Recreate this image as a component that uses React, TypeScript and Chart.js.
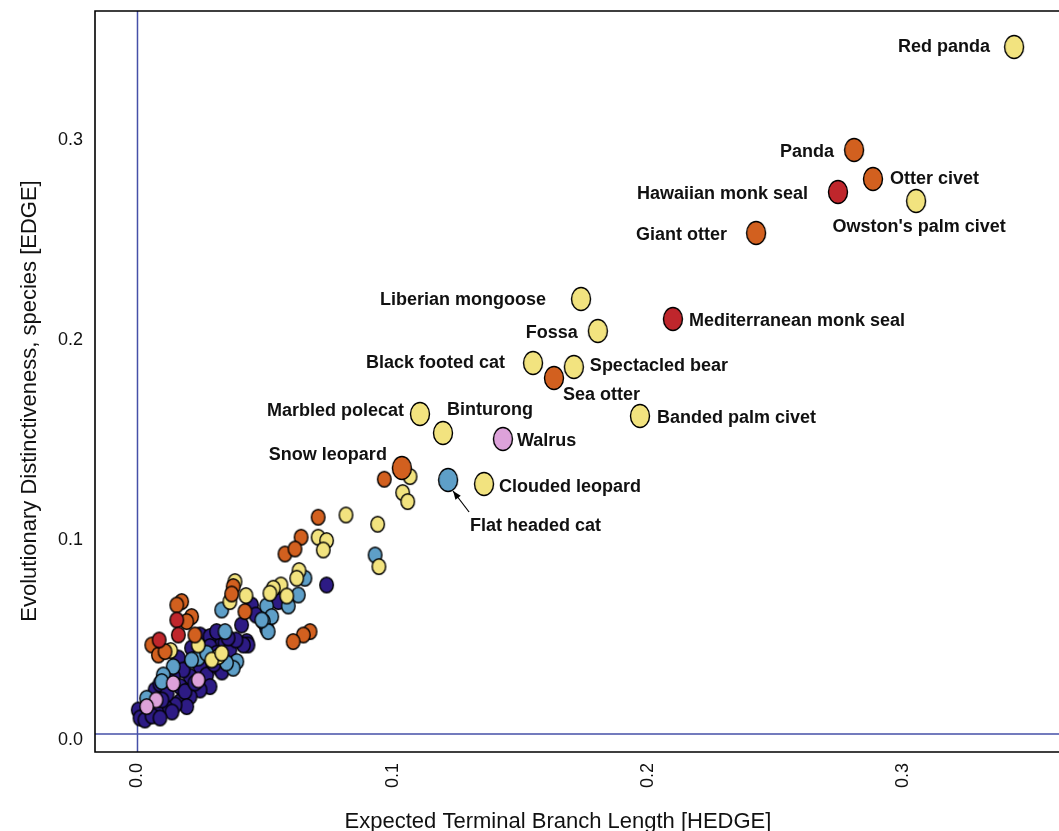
import React, { useEffect, useRef } from 'react';
import { Chart, registerables } from 'chart.js';

Chart.register(...registerables);

// ---------- DATA ----------
const xTickValues = [0, 0.1, 0.2, 0.3];
const yTickValues = [0, 0.1, 0.2, 0.3];

const xTitle = 'Expected Terminal Branch Length [HEDGE]';
const yTitle = 'Evolutionary Distinctiveness, species [EDGE]';

// labelled species
const labelNames = [
  'Red panda', 'Panda', 'Otter civet', 'Hawaiian monk seal', "Owston's palm civet",
  'Giant otter', 'Liberian mongoose', 'Mediterranean monk seal', 'Fossa', 'Black footed cat',
  'Spectacled bear', 'Sea otter', 'Marbled polecat', 'Banded palm civet', 'Binturong',
  'Walrus', 'Snow leopard', 'Flat headed cat', 'Clouded leopard',
];
const labelHedge = [
  0.3435, 0.2808, 0.2882, 0.2745, 0.3051,
  0.2424, 0.1738, 0.2098, 0.1804, 0.155,
  0.171, 0.1632, 0.1107, 0.1969, 0.1197,
  0.1432, 0.1036, 0.1217, 0.1358,
];
const labelEdge = [
  0.3435, 0.292, 0.2775, 0.271, 0.2665,
  0.2505, 0.2175, 0.2075, 0.2015, 0.1855,
  0.1835, 0.178, 0.16, 0.159, 0.1505,
  0.1475, 0.133, 0.127, 0.125,
];
const labelGroup = [
  'yellow', 'orange', 'orange', 'red', 'yellow',
  'orange', 'yellow', 'red', 'yellow', 'yellow',
  'yellow', 'orange', 'yellow', 'yellow', 'yellow',
  'pink', 'orange', 'blue', 'yellow',
];

// unlabelled species, [HEDGE, EDGE]
const redPoints = [
  [0.0154, 0.057], [0.016, 0.0495], [0.0085, 0.047],
];
const orangePoints = [
  [0.0967, 0.1274], [0.0708, 0.1084], [0.0641, 0.0984], [0.0578, 0.09], [0.0617, 0.0925],
  [0.0676, 0.0512], [0.065, 0.0495], [0.061, 0.0462], [0.0375, 0.0737], [0.0369, 0.07],
  [0.0421, 0.0612], [0.0173, 0.0662], [0.0154, 0.0645], [0.0212, 0.0587], [0.0193, 0.0562],
  [0.0225, 0.0495], [0.0056, 0.0445], [0.0082, 0.0395], [0.0108, 0.0412],
];
const yellowPoints = [
  [0.1068, 0.1287], [0.1039, 0.1207], [0.1059, 0.1162], [0.0817, 0.1095], [0.0941, 0.1049],
  [0.0708, 0.0984], [0.0741, 0.0967], [0.0728, 0.092], [0.0946, 0.0837], [0.0633, 0.0817],
  [0.0624, 0.0779], [0.0562, 0.0745], [0.0532, 0.0729], [0.0519, 0.0704], [0.0585, 0.069],
  [0.0382, 0.0762], [0.0362, 0.0662], [0.0425, 0.0692], [0.0317, 0.0387], [0.0291, 0.037],
  [0.033, 0.0404], [0.0238, 0.0445], [0.013, 0.0417],
];
const pinkPoints = [
  [0.014, 0.0253], [0.0238, 0.027], [0.0073, 0.017], [0.0036, 0.0137],
];
const bluePoints = [
  [0.0931, 0.0895], [0.0656, 0.0779], [0.063, 0.0695], [0.0591, 0.064], [0.0506, 0.064],
  [0.0526, 0.0587], [0.0493, 0.0562], [0.0512, 0.0512], [0.033, 0.062], [0.0343, 0.0512],
  [0.0389, 0.0362], [0.0238, 0.038], [0.0212, 0.037], [0.014, 0.0337], [0.0101, 0.0295],
  [0.0375, 0.0329], [0.0487, 0.057], [0.0095, 0.0262], [0.0036, 0.0179], [0.0271, 0.0404],
  [0.0349, 0.0355],
];
const navyPoints = [
  [0.0741, 0.0745], [0.0545, 0.0687], [0.0552, 0.0662], [0.0506, 0.0529], [0.0447, 0.0645],
  [0.0408, 0.0545], [0.0428, 0.0462], [0.0433, 0.0445], [0.0415, 0.0445], [0.0264, 0.048],
  [0.0291, 0.047], [0.0317, 0.0462], [0.0343, 0.0455], [0.0212, 0.043], [0.016, 0.038],
  [0.0245, 0.0495], [0.0284, 0.0487], [0.031, 0.0512], [0.0284, 0.0437], [0.0258, 0.0404],
  [0.031, 0.0404], [0.0219, 0.037], [0.0245, 0.0337], [0.0206, 0.0287], [0.0271, 0.0295],
  [0.0284, 0.0237], [0.0245, 0.022], [0.0206, 0.0187], [0.0167, 0.0162], [0.0179, 0.032],
  [0.014, 0.0287], [0.0167, 0.0237], [0.0186, 0.0212], [0.0193, 0.0137], [0.0147, 0.0145],
  [0.0108, 0.0137], [0.0075, 0.0112], [0.0023, 0.0104], [0.0003, 0.012], [0.001, 0.008],
  [0.0049, 0.017], [0.0069, 0.022], [0.0088, 0.025], [0.0116, 0.02], [0.0135, 0.011],
  [0.0029, 0.007], [0.0057, 0.009], [0.0088, 0.008], [0.0096, 0.017], [0.0225, 0.0255],
  [0.0315, 0.0335], [0.0343, 0.037], [0.0362, 0.042], [0.0386, 0.047], [0.0331, 0.031],
  [0.03, 0.035], [0.0464, 0.0595], [0.0355, 0.048],
];

// ---------- STYLE ----------
const groupColors: Record<string, string> = {
  navy: '#2D1B84',
  blue: '#5E9FC8',
  pink: '#DDA2DA',
  yellow: '#F2E37F',
  orange: '#D2601F',
  red: '#BF262C',
};

// label placement relative to the labelled point (pixels)
const labelPlacement: { dx: number; dy: number; align: CanvasTextAlign }[] = [
  { dx: -24, dy: 0, align: 'right' },
  { dx: -20, dy: 2, align: 'right' },
  { dx: 17, dy: 0, align: 'left' },
  { dx: -30, dy: 2, align: 'right' },
  { dx: 3, dy: 26, align: 'center' },
  { dx: -29, dy: 2, align: 'right' },
  { dx: -35, dy: 1, align: 'right' },
  { dx: 16, dy: 2, align: 'left' },
  { dx: -20, dy: 2, align: 'right' },
  { dx: -28, dy: 0, align: 'right' },
  { dx: 16, dy: -1, align: 'left' },
  { dx: 9, dy: 17, align: 'left' },
  { dx: -16, dy: -3, align: 'right' },
  { dx: 17, dy: 2, align: 'left' },
  { dx: 4, dy: -23, align: 'left' },
  { dx: 14, dy: 2, align: 'left' },
  { dx: -15, dy: -13, align: 'right' },
  { dx: 22, dy: 46, align: 'left' },
  { dx: 15, dy: 3, align: 'left' },
];

function makeEllipse(fill: string, w: number, h: number): HTMLCanvasElement {
  const c = document.createElement('canvas');
  c.width = Math.ceil(w + 3);
  c.height = Math.ceil(h + 3);
  const g = c.getContext('2d')!;
  g.beginPath();
  g.ellipse(c.width / 2, c.height / 2, w / 2, h / 2, 0, 0, Math.PI * 2);
  g.fillStyle = fill;
  g.fill();
  g.lineWidth = 1.4;
  g.strokeStyle = '#000';
  g.stroke();
  return c;
}

const FONT = "'Liberation Sans', Arial, Helvetica, sans-serif";

function noPad(s: any) {
  s.paddingTop = 0;
  s.paddingBottom = 0;
  s.paddingLeft = 0;
  s.paddingRight = 0;
}

export default function App() {
  const ref = useRef<HTMLCanvasElement>(null);

  useEffect(() => {
    document.body.style.margin = '0';
    document.body.style.overflow = 'hidden';
    const canvas = ref.current!;

    const small: Record<string, HTMLCanvasElement> = {};
    const large: Record<string, HTMLCanvasElement> = {};
    Object.keys(groupColors).forEach((k) => {
      small[k] = makeEllipse(groupColors[k], 13.5, 15.5);
      large[k] = makeEllipse(groupColors[k], 19, 23);
    });

    const toXY = (arr: number[][]) => arr.map(([x, y]) => ({ x, y }));
    const groupDataset = (name: string, pts: number[][]) => ({
      label: name,
      data: toXY(pts),
      pointStyle: small[name],
      pointRadius: 8,
      showLine: false,
    });

    const labelled = {
      label: 'labelled',
      data: labelHedge.map((x, i) => ({ x, y: labelEdge[i] })),
      pointStyle: labelGroup.map((g) => large[g]),
      pointRadius: 11,
      showLine: false,
    };

    const overlay = {
      id: 'overlay',
      beforeDatasetsDraw(chart: any) {
        const { ctx, chartArea, scales } = chart;
        const x0 = scales.x.getPixelForValue(0);
        const y0 = scales.y.getPixelForValue(0);
        ctx.save();
        ctx.strokeStyle = '#4650A8';
        ctx.lineWidth = 1.5;
        ctx.beginPath();
        ctx.moveTo(x0, chartArea.top);
        ctx.lineTo(x0, chartArea.bottom);
        ctx.moveTo(chartArea.left, y0);
        ctx.lineTo(chartArea.right + 2, y0);
        ctx.stroke();
        ctx.strokeStyle = '#000';
        ctx.lineWidth = 1.6;
        ctx.beginPath();
        ctx.moveTo(chartArea.right + 2, chartArea.top);
        ctx.lineTo(chartArea.left, chartArea.top);
        ctx.lineTo(chartArea.left, chartArea.bottom);
        ctx.lineTo(chartArea.right + 2, chartArea.bottom);
        ctx.stroke();
        ctx.restore();
      },
      afterDatasetsDraw(chart: any) {
        const { ctx, scales } = chart;
        ctx.save();
        ctx.fillStyle = '#111';
        ctx.font = `bold 18px ${FONT}`;
        ctx.textBaseline = 'middle';
        labelNames.forEach((name, i) => {
          const px = scales.x.getPixelForValue(labelHedge[i]);
          const py = scales.y.getPixelForValue(labelEdge[i]);
          const p = labelPlacement[i];
          ctx.textAlign = p.align;
          ctx.fillText(name, px + p.dx, py + p.dy);
        });
        // arrow to flat headed cat
        const fi = labelNames.indexOf('Flat headed cat');
        const fx = scales.x.getPixelForValue(labelHedge[fi]);
        const fy = scales.y.getPixelForValue(labelEdge[fi]);
        const sx = fx + 21, sy = fy + 32;
        const ex = fx + 5, ey = fy + 11;
        ctx.strokeStyle = '#000';
        ctx.lineWidth = 1.2;
        ctx.beginPath();
        ctx.moveTo(sx, sy);
        ctx.lineTo(ex, ey);
        ctx.stroke();
        const ang = Math.atan2(ey - sy, ex - sx);
        const L = 9, W = 0.38;
        ctx.beginPath();
        ctx.moveTo(ex, ey);
        ctx.lineTo(ex - L * Math.cos(ang - W), ey - L * Math.sin(ang - W));
        ctx.lineTo(ex - L * Math.cos(ang + W), ey - L * Math.sin(ang + W));
        ctx.closePath();
        ctx.fillStyle = '#000';
        ctx.fill();
        ctx.restore();
      },
      afterDraw(chart: any) {
        const { ctx } = chart;
        ctx.save();
        ctx.fillStyle = '#111';
        ctx.font = `22px ${FONT}`;
        ctx.textAlign = 'center';
        ctx.textBaseline = 'alphabetic';
        ctx.fillText(xTitle, 558, 828);
        ctx.translate(36, 401);
        ctx.rotate(-Math.PI / 2);
        ctx.fillText(yTitle, 0, 0);
        ctx.restore();
      },
    };

    const chart = new Chart(canvas, {
      type: 'scatter',
      data: {
        datasets: [
          labelled,
          groupDataset('red', redPoints),
          groupDataset('orange', orangePoints),
          groupDataset('yellow', yellowPoints),
          groupDataset('pink', pinkPoints),
          groupDataset('blue', bluePoints),
          groupDataset('navy', navyPoints),
        ] as any,
      },
      options: {
        animation: false,
        responsive: false,
        devicePixelRatio: 1,
        layout: { autoPadding: false, padding: { top: 11, left: 0, right: 0, bottom: 0 } },
        plugins: { legend: { display: false }, tooltip: { enabled: false } },
        scales: {
          x: {
            type: 'linear',
            min: -0.01665,
            max: 0.3611,
            afterFit: (s: any) => { s.height = 79; noPad(s); },
            afterBuildTicks: (s: any) => { s.ticks = xTickValues.map((v) => ({ value: v })); },
            grid: { display: false, drawTicks: false },
            border: { display: false },
            ticks: {
              autoSkip: false,
              minRotation: 90,
              maxRotation: 90,
              padding: 11,
              color: '#111',
              font: { family: FONT, size: 18 },
              callback: (v: any) => Number(v).toFixed(1),
            },
          },
          y: {
            type: 'linear',
            min: -0.009,
            max: 0.3615,
            afterFit: (s: any) => { s.width = 95; noPad(s); },
            afterBuildTicks: (s: any) => { s.ticks = yTickValues.map((v) => ({ value: v })); },
            grid: { display: false, drawTicks: false },
            border: { display: false },
            ticks: {
              autoSkip: false,
              padding: 12,
              labelOffset: 6,
              color: '#111',
              font: { family: FONT, size: 18 },
              callback: (v: any) => Number(v).toFixed(1),
            },
          },
        },
      },
      plugins: [overlay],
    } as any);

    return () => chart.destroy();
  }, []);

  return (
    <div style={{ width: 1059, height: 831, position: 'relative' }}>
      <canvas ref={ref} width={1059} height={831} style={{ display: 'block', width: 1059, height: 831 }} />
    </div>
  );
}
